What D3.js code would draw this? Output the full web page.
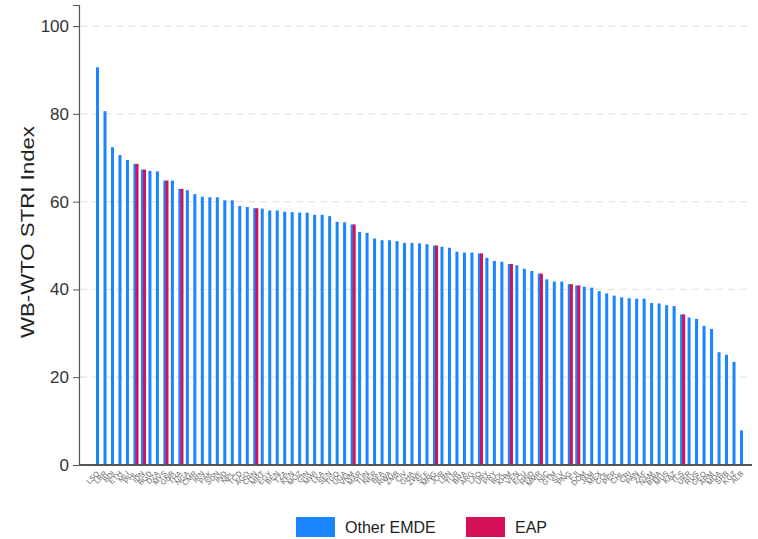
<!DOCTYPE html>
<html><head><meta charset="utf-8">
<script src="https://cdn.jsdelivr.net/npm/d3@7/dist/d3.min.js"></script>
<style>body{margin:0;background:#fff}svg{display:block;font-family:"Liberation Sans",Arial,sans-serif}</style>
</head><body><svg id="c" width="758" height="539"></svg>
<script>
const countries = ["LSO","LBR","BDI","ETH","MLI","PHL","IDN","BGD","DZA","MYS","GNB","THA","NGA","CMR","IRN","PAK","SDN","IND","NPL","TCD","AGO","CHN","MRT","EGY","BEN","TZA","KEN","MOZ","GIN","MWI","LKA","SEN","TGO","UGA","VNM","MAR","TUN","NER","BFA","RWA","ZMB","CIV","GHA","ZWE","SLE","MNG","JOR","LBN","TUR","BRA","ARG","LAO","URY","PRY","BOL","KHM","VEN","ECU","HND","MMR","NIC","GTM","SLV","PNG","FJI","DOM","JAM","MEX","COL","PER","CHL","CRI","PAN","ZAF","NAM","BWA","MUS","KAZ","TLS","UKR","RUS","GEO","ARM","MDA","SRB","KGZ","ALB"];
const striValues = [90.6,80.6,72.4,70.6,69.5,68.6,67.3,67.0,66.9,64.8,64.8,62.9,62.6,61.7,61.1,61.0,61.0,60.3,60.3,59.0,58.8,58.5,58.4,58.0,58.0,57.7,57.6,57.5,57.5,57.0,57.0,56.7,55.4,55.3,54.8,53.1,52.9,51.6,51.2,51.2,51.0,50.6,50.6,50.5,50.3,50.0,49.7,49.5,48.6,48.4,48.4,48.2,47.2,46.5,46.3,45.8,45.5,44.7,44.2,43.6,42.3,41.8,41.8,41.2,40.9,40.6,40.4,39.6,39.1,38.6,38.2,38.0,37.9,37.9,36.9,36.8,36.4,36.2,34.3,33.6,33.3,31.7,31.0,25.7,25.1,23.5,7.9];
const eapCountries = ["PHL","IDN","MYS","THA","CHN","VNM","MNG","LAO","KHM","MMR","PNG","FJI","TLS"];
const yTicks = [0,20,40,60,80,100];
const groups = ["Other EMDE","EAP"];
const colors = ["#1a85ff","#d41159"];

const data = countries.map((c,i)=>({c, v: striValues[i], eap: eapCountries.includes(c)}));
const svg = d3.select("#c");
const x = d3.scalePoint().domain(countries).range([97.5, 741.5]);
const y = d3.scaleLinear().domain([0,104.8]).range([465,5]);

// gridlines
svg.append("g").selectAll("line").data(yTicks.filter(t=>t>0)).join("line")
  .attr("x1",80).attr("x2",752).attr("y1",d=>y(d)).attr("y2",d=>y(d))
  .attr("stroke","#e4e4e4").attr("stroke-width",1.3).attr("stroke-dasharray","7,5");

// bars
const bw = 3;
svg.append("g").selectAll("rect").data(data).join("rect")
  .attr("x",d=>x(d.c)-bw/2).attr("width",bw)
  .attr("y",d=>y(d.v)).attr("height",d=>y(0)-y(d.v))
  .attr("fill",colors[0]);
svg.append("g").selectAll("rect").data(data.filter(d=>d.eap)).join("rect")
  .attr("x",d=>x(d.c)+0.6).attr("width",bw)
  .attr("y",d=>y(d.v)).attr("height",d=>y(0)-y(d.v))
  .attr("fill",colors[1]);

// y axis
const ya = svg.append("g").attr("transform","translate(79,0)")
  .call(d3.axisLeft(y).tickValues(yTicks).tickSize(6).tickPadding(4));
ya.select(".domain").attr("stroke","#555").attr("stroke-width",1.2);
ya.selectAll(".tick line").attr("stroke","#555");
ya.selectAll(".tick text").attr("font-size",17).attr("fill","#333").attr("font-family","'Liberation Sans',Arial,sans-serif");

// x axis
const xa = svg.append("g").attr("transform","translate(0,465)")
  .call(d3.axisBottom(x).tickSize(0).tickPadding(0));
xa.select(".domain").attr("d","M79,0H752").attr("stroke","#555").attr("stroke-width",2.2);
xa.selectAll(".tick text").attr("font-size",7.5).attr("fill","#666")
  .attr("text-anchor","end").attr("dy",0)
  .attr("transform","translate(2,9) rotate(-45)");

// y title
svg.append("text").attr("transform","translate(34,232) rotate(-90)")
  .attr("text-anchor","middle").attr("font-size",19).attr("fill","#222")
  .attr("textLength",212).attr("lengthAdjust","spacingAndGlyphs")
  .text("WB-WTO STRI Index");

// legend
const lg = svg.append("g");
const lx = [296,466];
groups.forEach((g,i)=>{
  lg.append("rect").attr("x",lx[i]).attr("y",517).attr("width",39).attr("height",20).attr("fill",colors[i]);
  lg.append("text").attr("x",lx[i]+49).attr("y",533).attr("font-size",16).attr("fill","#222").text(g);
});
</script></body></html>
